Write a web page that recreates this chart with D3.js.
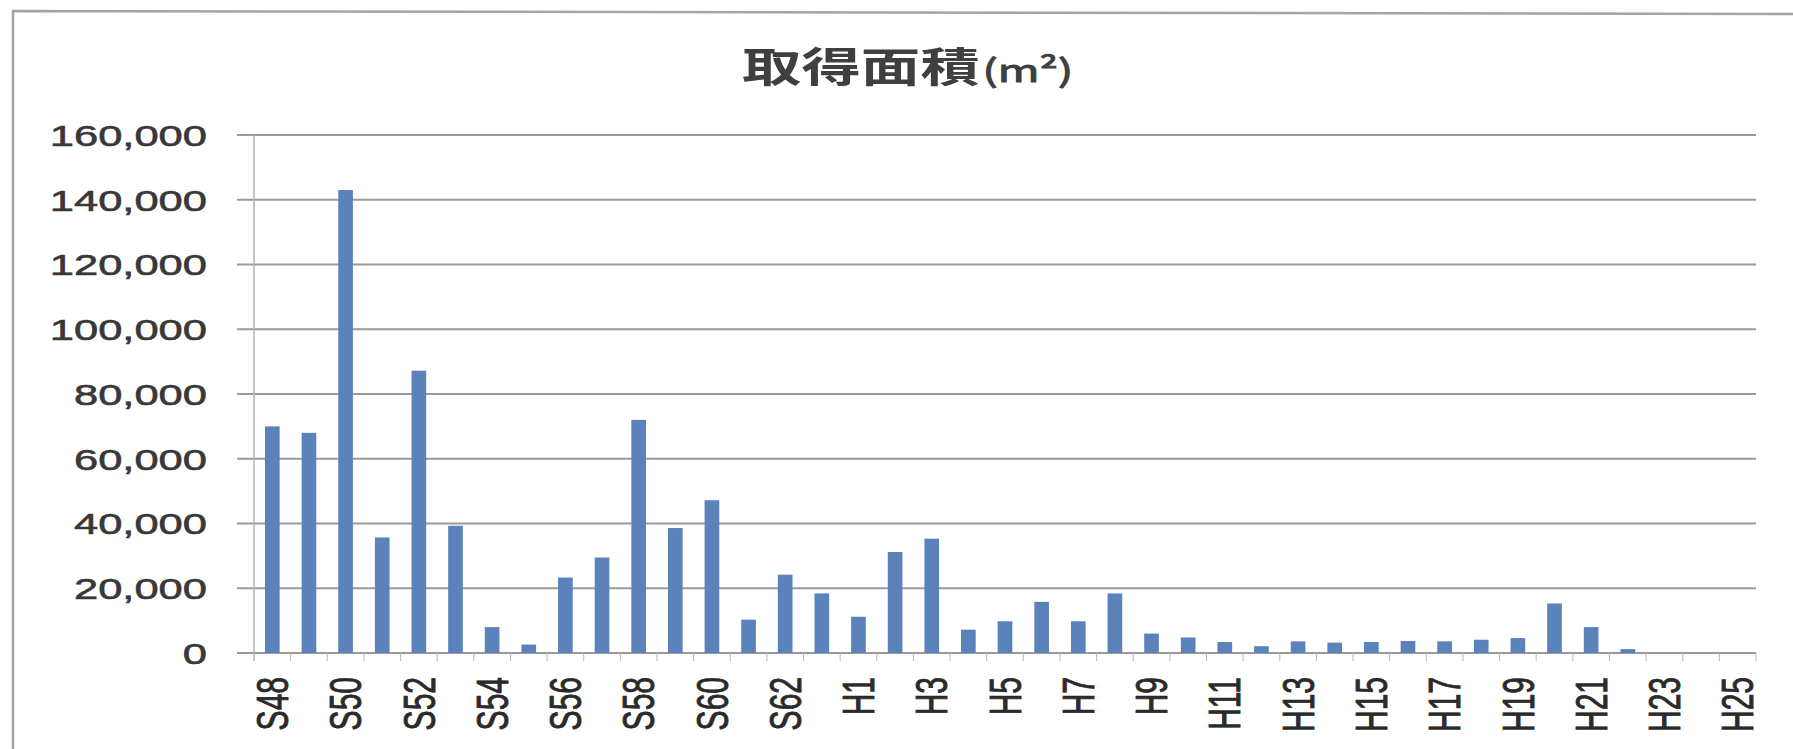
<!DOCTYPE html>
<meta charset="utf-8">
<script src="https://d3js.org/d3.v7.min.js"></script>
<style>
  body { margin: 0; background: #fff; }
</style>
<div id="chart"></div>
<script>
// fiscal years (Showa 48 .. Heisei 25)
var years = ["S48","S49","S50","S51","S52","S53","S54","S55","S56","S57","S58","S59","S60","S61","S62","S63",
             "H1","H2","H3","H4","H5","H6","H7","H8","H9","H10","H11","H12","H13","H14","H15","H16","H17","H18","H19","H20",
             "H21","H22","H23","H24","H25"];
// acquired area (m2)
var area = [70000, 68000, 143000, 35700, 87200, 39300, 8000, 2600, 23300, 29500, 72000, 38600, 47200, 10300, 24200, 18400,
            11200, 31200, 35300, 7200, 9800, 15800, 9800, 18400, 6000, 4800, 3400, 2100, 3600, 3200, 3400, 3700, 3600, 4100, 4600, 15300,
            8000, 1200, 0, 0, 0];
var xLabels = ["S48","S50","S52","S54","S56","S58","S60","S62","H1","H3","H5","H7","H9","H11","H13","H15","H17","H19","H21","H23","H25"];
var yTicks = [0, 20000, 40000, 60000, 80000, 100000, 120000, 140000, 160000];
var title = "取得面積";
var titleUnit = "(m²)";

var W = 1793, H = 749;
var margin = {top: 135, right: 37, bottom: 96, left: 254},
    width = W - margin.left - margin.right,
    height = H - margin.top - margin.bottom;
var stretch = 1.45; // scanned picture is wider than tall

var svg = d3.select("#chart").append("svg")
    .attr("width", W)
    .attr("height", H);

// outer chart frame
svg.append("path")
    .attr("d", "M13," + H + "L13,11L" + W + ",14")
    .attr("fill", "none")
    .attr("stroke", "#a4a4a4")
    .attr("stroke-width", 2.5);

var g = svg.append("g")
    .attr("transform", "translate(" + margin.left + "," + margin.top + ")");

var x = d3.scaleBand()
    .domain(years)
    .range([0, width])
    .paddingInner(0.6)
    .paddingOuter(0.3);

var y = d3.scaleLinear()
    .domain([0, 160000])
    .range([height, 0]);

// gridlines + y ticks
g.selectAll(".grid")
  .data(yTicks)
  .enter().append("line")
    .attr("class", "grid")
    .attr("x1", -17)
    .attr("x2", width)
    .attr("y1", function(d) { return y(d); })
    .attr("y2", function(d) { return y(d); })
    .attr("stroke", "#9a9a9a")
    .attr("stroke-width", 2);

// y axis line
g.append("line")
    .attr("x1", 0).attr("x2", 0)
    .attr("y1", 0).attr("y2", height + 8)
    .attr("stroke", "#b0b0b0")
    .attr("stroke-width", 1.5);

// x ticks between categories
var step = x.step();
g.selectAll(".xtick")
  .data(years)
  .enter().append("line")
    .attr("class", "xtick")
    .attr("x1", function(d) { return x(d) - x.paddingOuter() * step + step; })
    .attr("x2", function(d) { return x(d) - x.paddingOuter() * step + step; })
    .attr("y1", height)
    .attr("y2", height + 8)
    .attr("stroke", "#b8b8b8")
    .attr("stroke-width", 1);

// bars
g.selectAll(".bar")
  .data(years)
  .enter().append("rect")
    .attr("class", "bar")
    .attr("x", function(d) { return x(d); })
    .attr("width", x.bandwidth())
    .attr("y", function(d, i) { return y(area[i]); })
    .attr("height", function(d, i) { return height - y(area[i]); })
    .attr("fill", "#5b82bb");

// y labels
var fmt = d3.format(",");
g.selectAll(".ylab")
  .data(yTicks)
  .enter().append("text")
    .attr("class", "ylab")
    .attr("transform", function(d) { return "translate(-47," + y(d) + ") scale(" + stretch + ",1)"; })
    .attr("dy", "0.36em")
    .attr("text-anchor", "end")
    .style("font-family", "'Liberation Sans', Arial, sans-serif")
    .style("font-size", "30px")
    .style("fill", "#383838")
    .style("stroke", "#383838")
    .style("stroke-width", 0.6)
    .text(function(d) { return fmt(d); });

// x labels
g.selectAll(".xlab")
  .data(xLabels)
  .enter().append("text")
    .attr("class", "xlab")
    .attr("transform", function(d) {
      return "translate(" + (x(d) + x.bandwidth() / 2) + "," + (height + 24) + ") scale(" + stretch + ",1) rotate(-90)";
    })
    .attr("dy", "0.36em")
    .attr("text-anchor", "end")
    .style("font-family", "'Liberation Sans', Arial, sans-serif")
    .style("font-size", "30px")
    .style("fill", "#2a2a2a")
    .style("stroke", "#2a2a2a")
    .style("stroke-width", 0.6)
    .text(function(d) { return d; });

// title
var t = svg.append("text")
    .attr("transform", "translate(742,82) scale(" + stretch + ",1)")
    .style("font-family", "'Noto Sans CJK JP', sans-serif")
    .style("font-weight", "bold")
    .style("fill", "#3f3f3f");
t.append("tspan")
    .style("font-size", "41px")
    .text(title);
t.append("tspan")
    .attr("dx", 2)
    .style("font-size", "31px")
    .style("font-weight", "normal")
    .style("stroke", "#3f3f3f")
    .style("stroke-width", 1)
    .text(titleUnit);
</script>
